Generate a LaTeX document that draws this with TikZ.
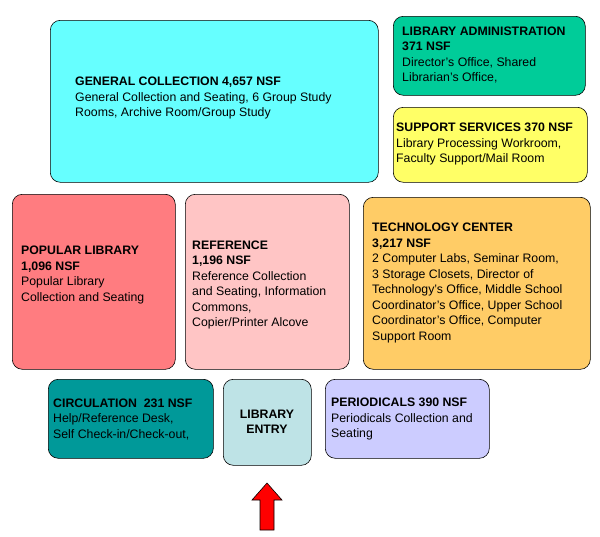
\documentclass[tikz,border=0pt]{standalone}
\usepackage{fontspec}
\setmainfont{Liberation Sans}
\begin{document}
\begin{tikzpicture}[x=1pt,y=-1pt,
  box/.style={draw=black,line width=0.6pt,rounded corners=10pt,anchor=north west,inner sep=0pt},
  txt/.style={anchor=west,align=left,font=\fontsize{12.3}{15.5}\selectfont,inner sep=0pt}]
\useasboundingbox (0,0) rectangle (600,536);
\definecolor{cgc}{HTML}{66FFFF}
\definecolor{cla}{HTML}{00CC99}
\definecolor{css}{HTML}{FFFF66}
\definecolor{cpl}{HTML}{FF7C80}
\definecolor{cref}{HTML}{FFC5C5}
\definecolor{ctc}{HTML}{FFCC66}
\definecolor{ccir}{HTML}{009999}
\definecolor{cent}{HTML}{BEE3E6}
\definecolor{cper}{HTML}{CCCCFF}
\node[box,fill=cgc,minimum width=328,minimum height=162] (gc) at (50,20) {};
\node[box,fill=cla,minimum width=192,minimum height=79] (la) at (393,16) {};
\node[box,fill=css,minimum width=194,minimum height=75] (ss) at (393,107) {};
\node[box,fill=cpl,minimum width=163,minimum height=175] (pl) at (12,194) {};
\node[box,fill=cref,minimum width=164,minimum height=175] (rf) at (185,194) {};
\node[box,fill=ctc,minimum width=227,minimum height=172] (tc) at (363,197) {};
\node[box,fill=ccir,minimum width=165,minimum height=79] (ci) at (48,379) {};
\node[box,fill=cent,minimum width=88,minimum height=86] (en) at (223,379) {};
\node[box,fill=cper,minimum width=164,minimum height=79] (pe) at (325,379) {};
\node[txt] (tgc) at (75,98) {\textbf{GENERAL COLLECTION 4,657 NSF}\\General Collection and Seating, 6 Group Study\\Rooms, Archive Room/Group Study};
\node[txt] (tla) at (402,55) {\textbf{LIBRARY ADMINISTRATION}\\\textbf{371 NSF}\\Director's Office, Shared\\Librarian's Office,};
\node[txt] (tss) at (396,144) {\textbf{SUPPORT SERVICES 370 NSF}\\Library Processing Workroom,\\Faculty Support/Mail Room};
\node[txt] (tpl) at (21,275) {\textbf{POPULAR LIBRARY}\\\textbf{1,096 NSF}\\Popular Library\\Collection and Seating};
\node[txt] (trf) at (192,285) {\textbf{REFERENCE}\\\textbf{1,196 NSF}\\Reference Collection\\and Seating, Information\\Commons,\\Copier/Printer Alcove};
\node[txt] (ttc) at (372,283) {\textbf{TECHNOLOGY CENTER}\\\textbf{3,217 NSF}\\2 Computer Labs, Seminar Room,\\3 Storage Closets, Director of\\Technology's Office, Middle School\\Coordinator's Office, Upper School\\Coordinator's Office, Computer\\Support Room};
\node[txt] (tci) at (53,419) {\textbf{CIRCULATION\ \ 231 NSF}\\Help/Reference Desk,\\Self Check-in/Check-out,};
\node[txt,align=center,anchor=center] (ten) at (267,422) {\textbf{LIBRARY}\\\textbf{ENTRY}};
\node[txt] (tpe) at (331,419) {\textbf{PERIODICALS 390 NSF}\\Periodicals Collection and\\Seating};
\draw[fill=red,draw=black,line width=0.6pt] (260,530) -- (260,500) -- (252,500) -- (267,483) -- (282,500) -- (274,500) -- (274,530) -- cycle;
\end{tikzpicture}
\end{document}
